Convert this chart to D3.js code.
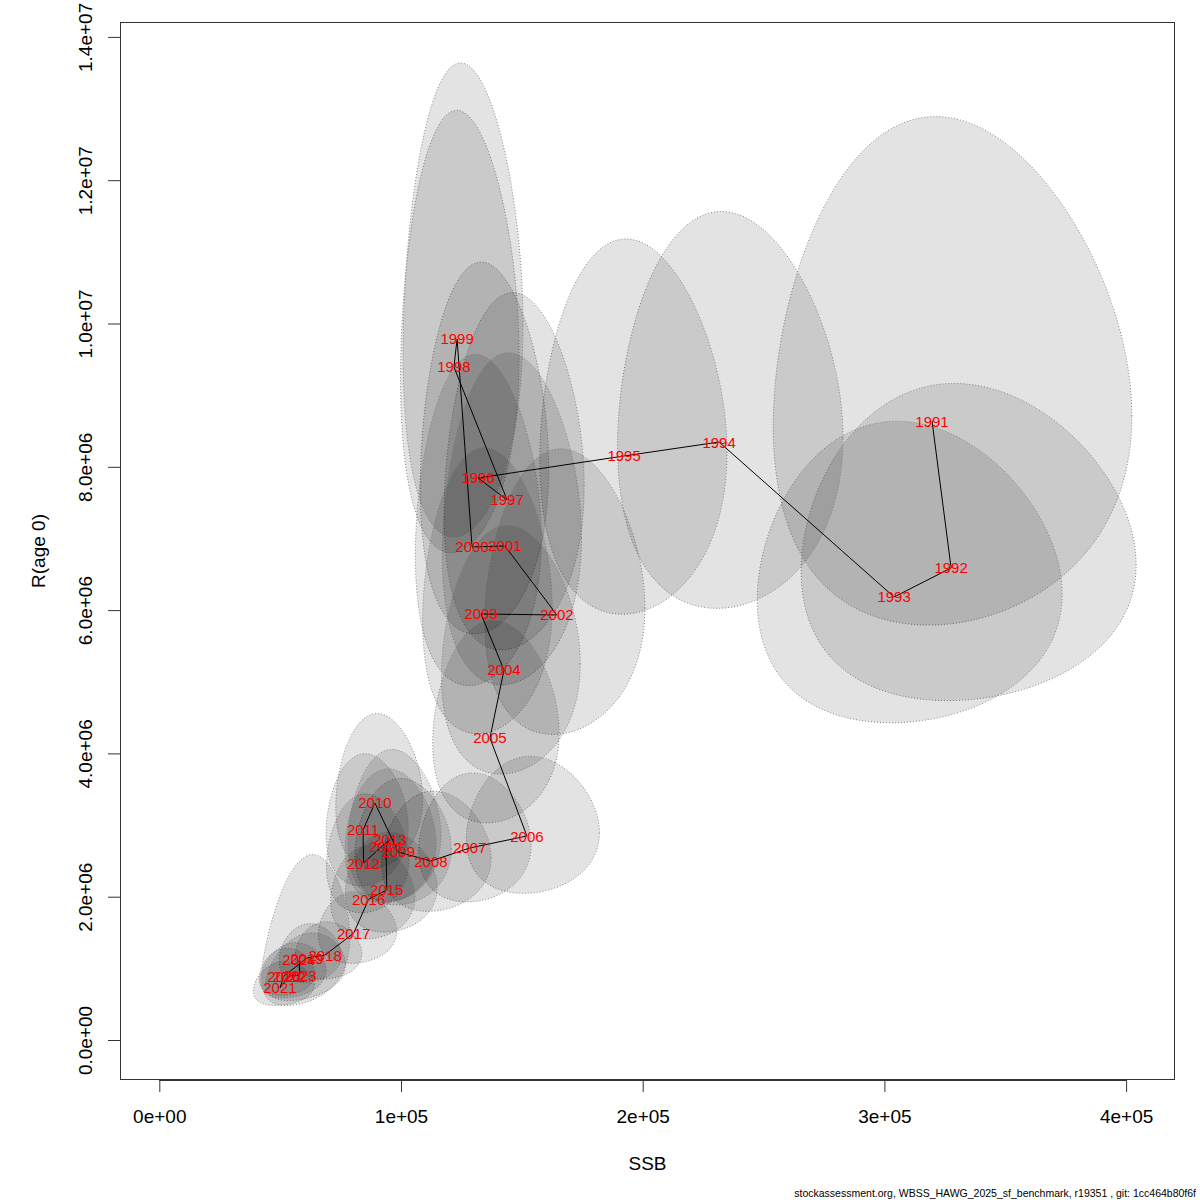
<!DOCTYPE html>
<html>
<head>
<meta charset="utf-8">
<script src="https://cdn.jsdelivr.net/npm/d3@7"></script>
<style>
  html, body { margin: 0; padding: 0; background: #fff; }
  svg { display: block; font-family: "Liberation Sans", Arial, Helvetica, sans-serif; }
</style>
</head>
<body>
<svg id="chart" width="1200" height="1200"></svg>
<script>
// ---- Data ----
const years = [1991,1992,1993,1994,1995,1996,1997,1998,1999,2000,
               2001,2002,2003,2004,2005,2006,2007,2008,2009,2010,
               2011,2012,2013,2014,2015,2016,2017,2018,2019,2020,
               2021,2022,2023,2024];
const ssb = [319700,327600,304000,231600,192300,131900,143900,121900,123200,129400,
             143000,164500,133100,142600,136800,152100,128500,112400,98900,89200,
             84300,84500,95400,93800,94100,86600,80400,68600,61100,51600,
             49900,53700,58200,57800];
const rec = [8639000,6588000,6183000,8346000,8151000,7844000,7537000,9393000,9784000,6881000,
             6895000,5932000,5946000,5164000,4215000,2847000,2680000,2498000,2624000,3308000,
             2931000,2470000,2801000,2694000,2094000,1964000,1489000,1186000,1144000,893000,
             726000,893000,907000,1117000];
// half-widths of the confidence region on log scale
const ciLogSSB = [0.23,0.21,0.206,0.20,0.20,0.20,0.20,0.20,0.20,0.20,
                  0.20,0.20,0.20,0.20,0.19,0.18,0.18,0.20,0.20,0.20,
                  0.20,0.20,0.20,0.20,0.20,0.20,0.20,0.20,0.21,0.22,
                  0.25,0.25,0.28,0.31];
const ciLogR   = [0.40,0.33,0.334,0.326,0.316,0.325,0.325,0.323,0.332,0.33,
                  0.33,0.33,0.33,0.33,0.33,0.33,0.33,0.33,0.33,0.32,
                  0.31,0.33,0.37,0.34,0.33,0.33,0.33,0.33,0.35,0.36,
                  0.41,0.42,0.50,0.84];
const corr     = [0.02,0.02,0.02,0.02,0.02,0.05,0.08,0.05,0.06,0.05,
                  0.05,0.05,0.05,0.05,0.05,0.05,0.05,0.05,0.05,0.05,
                  0.05,0.05,0.05,0.05,0.05,0.05,0.05,0.05,0.1,0.1,
                  0.15,0.2,0.3,0.3];
const xTicks = [0,100000,200000,300000,400000];
const xTickLabels = ["0e+00","1e+05","2e+05","3e+05","4e+05"];
const yTicks = [0,2e6,4e6,6e6,8e6,1e7,1.2e7,1.4e7];
const yTickLabels = ["0.0e+00","2.0e+06","4.0e+06","6.0e+06","8.0e+06","1.0e+07","1.2e+07","1.4e+07"];
const xTitle = "SSB";
const yTitle = "R(age 0)";
const footer = "stockassessment.org, WBSS_HAWG_2025_sf_benchmark, r19351 , git: 1cc464b80f6f";

// ---- Layout ----
const L = 120, R = 1175, T = 22, B = 1080;
const x = d3.scaleLinear().domain([-16260, 420230]).range([L, R]);
const y = d3.scaleLinear().domain([-558270, 14207960]).range([B, T]);

const svg = d3.select("#chart");
svg.append("rect").attr("width",1200).attr("height",1200).attr("fill","#fff");

svg.append("clipPath").attr("id","plotclip")
  .append("rect").attr("x",L).attr("y",T).attr("width",R-L).attr("height",B-T);

const plot = svg.append("g").attr("clip-path","url(#plotclip)");

// ellipses (confidence regions on log scale, back-transformed)
const N = 240;
const lineGen = d3.line().x(d => x(d[0])).y(d => y(d[1]));
years.forEach((yr, i) => {
  const lx0 = Math.log(ssb[i]), ly0 = Math.log(rec[i]);
  const kx = ciLogSSB[i], ky = ciLogR[i], r = corr[i], s = Math.sqrt(1 - r*r);
  const pts = d3.range(N).map(j => {
    const t = 2*Math.PI*j/N;
    const lx = lx0 + kx*Math.cos(t);
    const ly = ly0 + ky*(r*Math.cos(t) + s*Math.sin(t));
    return [Math.exp(lx), Math.exp(ly)];
  });
  plot.append("path")
    .attr("d", lineGen(pts) + "Z")
    .attr("fill","rgba(0,0,0,0.11)")
    .attr("stroke","#7a7a7a")
    .attr("stroke-width",0.9)
    .attr("stroke-dasharray","1,2");
});

// trajectory line
plot.append("path")
  .attr("d", lineGen(years.map((d,i)=>[ssb[i],rec[i]])))
  .attr("fill","none").attr("stroke","#000").attr("stroke-width",1);

// year labels
plot.selectAll("text.yr").data(years).enter().append("text")
  .attr("class","yr")
  .attr("x",(d,i)=>x(ssb[i]))
  .attr("y",(d,i)=>y(rec[i]) + 5.5)
  .attr("text-anchor","middle")
  .attr("font-size",15)
  .attr("fill","#ff0000")
  .text(d=>d);

// box
svg.append("rect").attr("x",L+0.5).attr("y",T+0.5).attr("width",R-L-1).attr("height",B-T-1)
  .attr("fill","none").attr("stroke","#333").attr("stroke-width",1);

// x axis
const xa = svg.append("g").attr("transform",`translate(0,${B})`)
  .call(d3.axisBottom(x).tickValues(xTicks).tickFormat((d,i)=>xTickLabels[i]).tickSize(12).tickPadding(0));
xa.select(".domain").remove();
xa.selectAll(".tick line").attr("stroke","#333");
xa.selectAll(".tick text").attr("font-size",19).attr("fill","#000")
  .attr("font-family","Liberation Sans, Arial, sans-serif")
  .attr("dy",null).attr("y",43);
svg.append("line").attr("x1",x(xTicks[0])).attr("x2",x(xTicks[xTicks.length-1]))
  .attr("y1",B+0.5).attr("y2",B+0.5).attr("stroke","#333");

// y axis
const ya = svg.append("g").attr("transform",`translate(${L},0)`)
  .call(d3.axisLeft(y).tickValues(yTicks).tickFormat((d,i)=>yTickLabels[i]).tickSize(12).tickPadding(0));
ya.select(".domain").remove();
ya.selectAll(".tick line").attr("stroke","#333");
ya.selectAll(".tick text")
  .attr("font-size",19).attr("fill","#000")
  .attr("font-family","Liberation Sans, Arial, sans-serif")
  .attr("x",null).attr("dy",null)
  .attr("text-anchor","middle")
  .attr("transform","translate(-28,0) rotate(-90)");
svg.append("line").attr("x1",L+0.5).attr("x2",L+0.5)
  .attr("y1",y(yTicks[0])).attr("y2",y(yTicks[yTicks.length-1])).attr("stroke","#333");

// titles
svg.append("text").attr("x",(L+R)/2).attr("y",1170).attr("text-anchor","middle")
  .attr("font-size",19).text(xTitle);
svg.append("text").attr("transform",`translate(45,${(T+B)/2}) rotate(-90)`)
  .attr("text-anchor","middle").attr("font-size",19).text(yTitle);

// footer
svg.append("text").attr("x",1196).attr("y",1197).attr("text-anchor","end")
  .attr("font-size",10.5).text(footer);
</script>
</body>
</html>
